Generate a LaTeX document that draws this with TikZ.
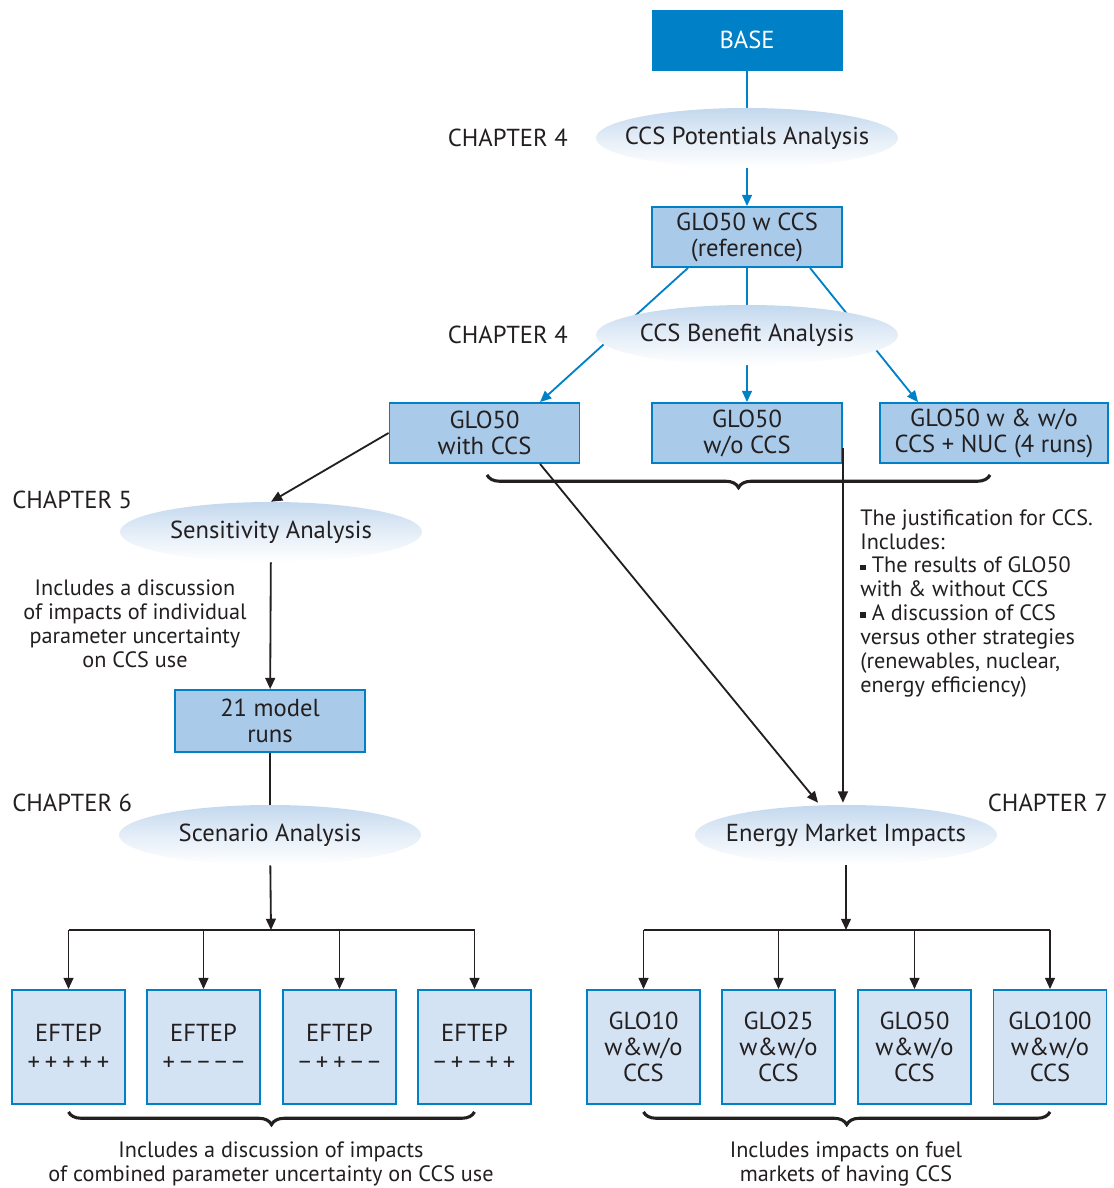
\documentclass[tikz,border=0pt]{standalone}
\usepackage{fontspec}
\setmainfont{PT Sans}
\usepackage{xcolor}
\definecolor{BaseBlue}{HTML}{0080C6}
\definecolor{RunFill}{HTML}{A9CAE8}
\definecolor{OptFill}{HTML}{D3E3F3}
\definecolor{StageTop}{HTML}{C3D8EE}
\definecolor{InkGray}{HTML}{231F20}
\usepackage{tikz}
\usetikzlibrary{shapes.geometric, arrows.meta, positioning, calc, backgrounds, decorations.pathreplacing}
\newcommand{\diagfont}{\fontsize{17.5}{18.5}\selectfont}
\newcommand{\notefont}{\fontsize{15.8}{17}\selectfont}
\newcommand{\sqbullet}{\raisebox{0.25ex}{\rule{4pt}{4pt}}}
\newcommand{\sg}{\hspace{3.5pt}}
\tikzset{
  basebox/.style={rectangle, draw=BaseBlue, fill=BaseBlue, text=white, minimum width=4.75cm, minimum height=1.5cm, font=\diagfont, align=center},
  runbox/.style={rectangle, draw=BaseBlue, line width=1.3pt, fill=RunFill, text=InkGray, minimum width=4.75cm, minimum height=1.5cm, font=\diagfont, align=center, inner sep=2pt},
  optbox/.style={rectangle, draw=BaseBlue, line width=1.3pt, fill=OptFill, text=InkGray, minimum width=2.825cm, minimum height=2.85cm, font=\diagfont, align=center, inner sep=2pt},
  stage/.style={ellipse, top color=StageTop, bottom color=white, middle color=StageTop!45, minimum width=7.55cm, minimum height=1.5cm, font=\diagfont, text=InkGray, inner xsep=-0.8cm, inner ysep=0pt},
  chaplabel/.style={font=\diagfont, text=InkGray, inner sep=0pt},
  note/.style={font=\notefont, text=InkGray, align=center, inner sep=0pt},
  bluelink/.style={BaseBlue, line width=1.3pt},
  bluearrow/.style={-{Triangle[length=8pt,width=7pt]}, BaseBlue, line width=1.3pt},
  blacklink/.style={InkGray, line width=1.3pt},
  blackarrow/.style={-{Triangle[length=8pt,width=7pt]}, InkGray, line width=1.3pt},
  curly/.style={decorate, decoration={brace, amplitude=9pt, mirror}, InkGray, line width=2.2pt}
}
\begin{document}
\begin{tikzpicture}[x=0.025cm, y=-0.025cm]
  \useasboundingbox (0,0) rectangle (1113,1188);
  \node[basebox] (base) at (747,40) {BASE};
  \node[stage] (potent) at (747,138) {CCS Potentials Analysis};
  \node[chaplabel, anchor=east] (ch4a) at (568,138) {CHAPTER 4};
  \node[runbox] (ref) at (747,237) {GLO50 w CCS\\(reference)};
  \node[stage] (benefit) at (747,335) {CCS Benefit Analysis};
  \node[chaplabel, anchor=east] (ch4b) at (568,335) {CHAPTER 4};
  \node[runbox] (withccs) at (484.5,433) {GLO50\\with CCS};
  \node[runbox] (woccs) at (747,433) {GLO50\\w/o CCS};
  \node[runbox, minimum width=5.7cm] (nuc) at (994,433) {GLO50 w \& w/o\\CCS + NUC (4 runs)};
  \node[stage] (sens) at (271,532) {Sensitivity Analysis};
  \node[chaplabel, anchor=west] (ch5) at (12,500) {CHAPTER 5};
  \node[note] (sensnote) at (135,624) {Includes a discussion\\of impacts of individual\\parameter uncertainty\\on CCS use};
  \node[runbox, minimum height=1.55cm] (runs) at (270,721) {21 model\\runs};
  \node[note, align=left, anchor=north west] (justnote) at (860,509) {The justification for CCS.\\Includes:\\\sqbullet{} The results of GLO50\\with \& without CCS\\\sqbullet{} A discussion of CCS\\versus other strategies\\(renewables, nuclear,\\energy efficiency)};
  \node[stage] (scen) at (270,835) {Scenario Analysis};
  \node[chaplabel, anchor=west] (ch6) at (12,803) {CHAPTER 6};
  \node[stage] (energy) at (846,835) {Energy Market Impacts};
  \node[chaplabel, anchor=east] (ch7) at (1108,803) {CHAPTER 7};
  \foreach \i/\x/\signs in {1/68.5/{+\sg+\sg+\sg+\sg+}, 2/203.5/{+\sg−\sg−\sg−\sg−}, 3/339.5/{−\sg+\sg+\sg−\sg−}, 4/474.5/{−\sg+\sg−\sg+\sg+}}
    \node[optbox] (eftep\i) at (\x,1047) {EFTEP\\[2pt]\signs};
  \foreach \i/\x/\lbl in {1/643.5/GLO10, 2/778.5/GLO25, 3/914.5/GLO50, 4/1050/GLO100}
    \node[optbox] (glo\i) at (\x,1047) {\lbl\\w\&w/o\\CCS};
  \coordinate (scenfork) at (271,930);
  \coordinate (energyfork) at (846,930);
  \node[note] (scennote) at (271,1164) {Includes a discussion of impacts\\of combined parameter uncertainty on CCS use};
  \node[note] (energynote) at (846,1164) {Includes impacts on fuel\\markets of having CCS};

  \begin{scope}[on background layer]
    \draw[bluelink] (base) -- (potent);
    \draw[bluearrow] ($(ref.south)+(-59,0)$) -- ($(withccs.north)+(55.5,0)$);
    \draw[bluearrow] (ref) -- (woccs);
    \draw[bluearrow] ($(ref.south)+(63,0)$) -- ($(nuc.north)+(-76,0)$);
  \end{scope}
  \draw[bluearrow] (potent) -- (ref);
  \draw[curly] ($(withccs.south)+(2.5,11)$) -- ($(nuc.south)+(-4,11)$);
  \draw[blackarrow] (withccs.west) -- (sens.north);
  \draw[blackarrow] ($(withccs.south)+(55.5,0)$) -- ($(energy.north)+(-28,-2)$);
  \draw[blackarrow] ($(woccs.east)+(0,15)$) -- ($(woccs.east |- energy.north)+(0,-2)$);
  \draw[blackarrow] (sens) -- (runs);
  \draw[blacklink] (runs) -- (scen);
  \draw[blackarrow] (scen) -- (scenfork);
  \draw[blacklink] (eftep1 |- scenfork) -- (eftep4 |- scenfork);
  \draw[blackarrow] (energy) -- (energyfork);
  \draw[blacklink] (glo1 |- energyfork) -- (glo4 |- energyfork);
  \foreach \i in {1,...,4} {
    \draw[blackarrow] (eftep\i |- scenfork) -- (eftep\i.north);
    \draw[blackarrow] (glo\i |- energyfork) -- (glo\i.north);
  }
  \draw[curly] ($(eftep1.south)+(0,7)$) -- ($(eftep4.south)+(0,7)$);
  \draw[curly] ($(glo1.south)+(0,7)$) -- ($(glo4.south)+(0,7)$);
\end{tikzpicture}
\end{document}
